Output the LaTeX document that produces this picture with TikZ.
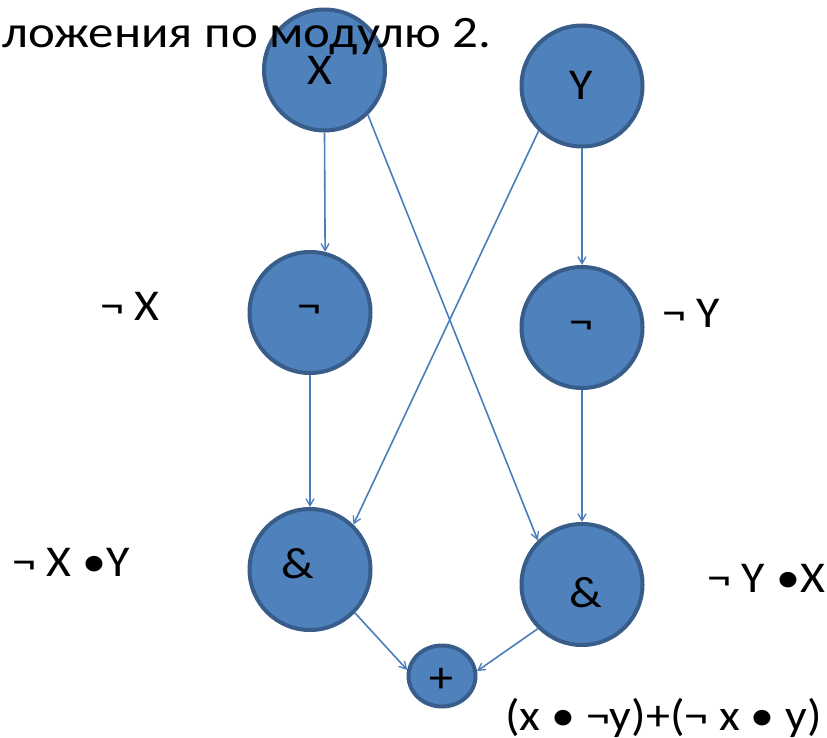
\documentclass[tikz,border=0pt]{standalone}
\usepackage{fontspec}
\setmainfont{Carlito}[FakeStretch=1.09]
\newfontfamily\titlefont{Carlito}[FakeStretch=1.13]
\usetikzlibrary{arrows.meta,shapes.geometric}
\definecolor{nodefill}{HTML}{4F81BD}
\definecolor{nodeline}{HTML}{385D8A}
\definecolor{conn}{HTML}{4A7EBB}
\begin{document}
\begin{tikzpicture}[x=1pt,y=-1pt,
  gate/.style={circle,fill=nodefill,draw=nodeline,line width=4pt,minimum size=121pt,inner sep=0pt},
  plusgate/.style={ellipse,fill=nodefill,draw=nodeline,line width=4pt,minimum width=67pt,minimum height=61pt,inner sep=0pt},
  txt/.style={anchor=base,inner sep=0pt,font=\fontsize{44}{50}\selectfont},
  ltxt/.style={anchor=base west,inner sep=0pt,font=\fontsize{44}{50}\selectfont},
  conn/.style={draw=conn,line width=1.6pt,-{Straight Barb[length=7pt,width=8pt,line width=1.3pt]}}
]
\useasboundingbox (0,0) rectangle (827,738);
% nodes
\node[gate] (X) at (324.5,70) {};
\node[gate] (Y) at (582,86) {};
\node[gate] (nL) at (310,312.5) {};
\node[gate] (nR) at (582,327.5) {};
\node[gate] (aL) at (310,569.5) {};
\node[gate] (aR) at (582,584.5) {};
\node[plusgate] (P) at (442,676) {};
% title (drawn over node X)
\node[ltxt,font=\titlefont\fontsize{45}{50}\selectfont] (title) at (2,48) {ложения по модулю 2.};
% node texts
\node[txt] (tX) at (320,85) {X};
\node[txt] (tY) at (581,100) {Y};
\node[txt] (tnL) at (309,320) {¬};
\node[txt] (tnR) at (581,336) {¬};
\node[txt] (taL) at (298,578) {\&};
\node[txt] (taR) at (586,607) {\&};
\node[txt] (tP) at (441.5,692) {+};
% side labels
\node[ltxt] (lnX) at (100,320) {¬ X};
\node[ltxt] (lnY) at (662,327) {¬ Y};
\node[ltxt] (lXY) at (12,576) {¬ X •Y};
\node[ltxt] (lYX) at (707,592) {¬ Y •X};
\node[ltxt] (lres) at (505,730) {(x • ¬y)+(¬ x • y)};
% connectors
\draw[conn] (X.-90) -- (nL.76);
\draw[conn] (nL.-90) -- (aL.90);
\draw[conn] (Y.-90) -- (nR.90);
\draw[conn] (nR.-90) -- (aR.90);
\draw[conn] (X.-46) -- (aR.135);
\draw[conn] (Y.-134) -- (aL.46);
\draw[conn] (aL.-44) -- (P.170);
\draw[conn] (aR.-135) -- (P.8);
\end{tikzpicture}
\end{document}
